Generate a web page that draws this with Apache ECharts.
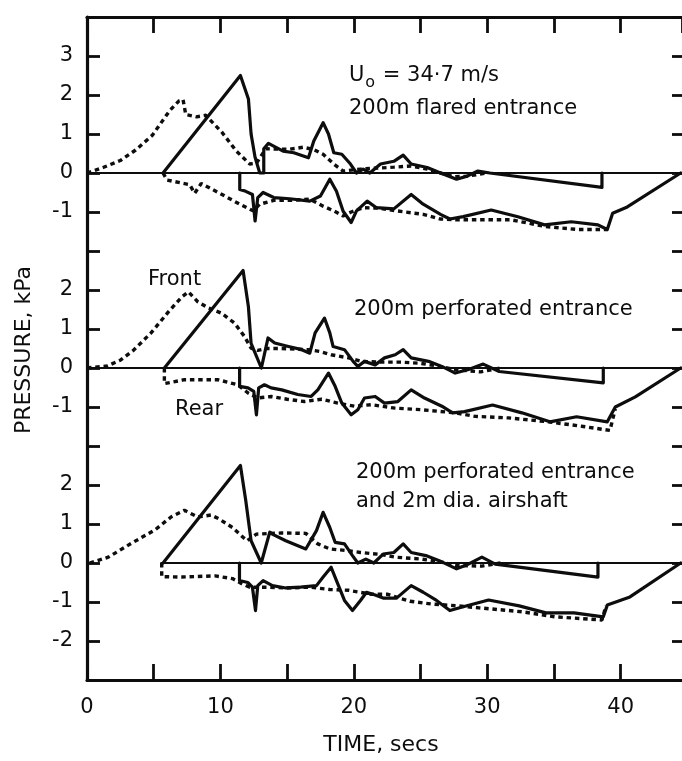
<!DOCTYPE html>
<html><head><meta charset="utf-8">
<script src="https://cdn.jsdelivr.net/npm/echarts@6/dist/echarts.min.js"></script>
<style>html,body{margin:0;padding:0;background:#fff}#c{width:682px;height:761px}</style>
</head><body><div id="c"></div>
<script>
// ---- Panel 1: 200m flared entrance (values in kPa, time in s)
const flaredFrontSolid = [[5.7,0],[11.5,2.5],[12.1,1.9],[12.3,1.0],[12.6,0.4],[12.95,0],[13.25,0],[13.25,0.62],[13.6,0.76],[14.7,0.56],[15.5,0.52],[16.6,0.39],[17.0,0.82],[17.7,1.29],[18.1,1.0],[18.5,0.52],[19.1,0.48],[19.75,0.23],[20.2,0],[20.7,0.1],[21.2,0],[22.0,0.23],[23.0,0.3],[23.7,0.46],[24.3,0.23],[25.5,0.14],[26.5,0],[27.7,-0.16],[28.5,-0.08],[29.3,0.05],[30.2,0],[38.6,-0.37],[38.6,0]];
const flaredFrontDotted = [[0,0],[1.2,0.14],[2.5,0.32],[3.65,0.59],[4.9,0.97],[6.2,1.6],[6.9,1.85],[7.2,1.88],[7.4,1.5],[8.2,1.44],[8.9,1.48],[10.1,1.05],[11.2,0.56],[12.2,0.23],[12.7,0.25],[13.4,0.62],[15.2,0.61],[16.2,0.66],[17.0,0.6],[17.7,0.48],[18.5,0.23],[19.2,0.05],[20.5,0.1],[21.5,0.12],[23.0,0.15],[24.3,0.18],[25.5,0.1],[26.5,0],[27.5,-0.1],[28.5,-0.08],[30.0,0]];
const flaredRearSolid = [[11.45,0],[11.45,-0.42],[11.9,-0.47],[12.4,-0.55],[12.6,-1.23],[12.8,-0.63],[13.2,-0.5],[14.0,-0.63],[15.2,-0.66],[16.7,-0.72],[17.5,-0.59],[18.2,-0.16],[18.7,-0.47],[19.2,-0.98],[19.8,-1.27],[20.2,-0.97],[21.0,-0.72],[21.7,-0.89],[23.0,-0.92],[24.3,-0.55],[25.2,-0.8],[26.5,-1.06],[27.2,-1.18],[28.2,-1.12],[30.3,-0.95],[32.3,-1.12],[34.3,-1.33],[36.3,-1.25],[38.3,-1.33],[39.0,-1.45],[39.4,-1.03],[40.5,-0.87],[44.5,0]];
const flaredRearDotted = [[5.7,0],[6.0,-0.18],[7.7,-0.3],[8.07,-0.52],[8.56,-0.27],[9.95,-0.52],[11.45,-0.8],[12.45,-0.97],[12.95,-0.8],[14.0,-0.7],[15.4,-0.7],[16.7,-0.67],[17.7,-0.85],[18.5,-0.97],[19.2,-1.1],[19.8,-1.0],[20.7,-0.89],[21.8,-0.9],[23.2,-0.97],[25.2,-1.06],[26.5,-1.18],[27.8,-1.2],[29.3,-1.2],[31.8,-1.2],[34.3,-1.37],[36.8,-1.45],[39.0,-1.45]];

// ---- Panel 2: 200m perforated entrance
const perfFrontSolid = [[5.8,0],[11.7,2.5],[12.1,1.57],[12.3,0.63],[13.07,0],[13.1,0],[13.57,0.77],[14.07,0.64],[15.1,0.55],[16.1,0.47],[16.7,0.38],[17.1,0.9],[17.8,1.28],[18.2,0.9],[18.45,0.55],[19.3,0.47],[19.95,0.17],[20.3,0.04],[20.8,0.17],[21.6,0.08],[22.3,0.26],[23.1,0.34],[23.7,0.47],[24.3,0.26],[25.6,0.17],[26.6,0.04],[27.6,-0.13],[28.6,-0.04],[29.7,0.1],[30.9,-0.09],[38.7,-0.38],[38.7,0]];
const perfFrontDotted = [[0,0],[1.5,0.05],[2.5,0.2],[3.5,0.46],[4.8,0.9],[6.1,1.44],[7.1,1.82],[7.6,1.95],[8.3,1.7],[9.1,1.54],[10.06,1.41],[11.06,1.15],[11.8,0.81],[12.3,0.51],[12.8,0.45],[13.5,0.5],[14.5,0.5],[16.6,0.47],[17.5,0.42],[18.3,0.34],[19.6,0.26],[20.6,0.17],[22.0,0.15],[23.5,0.15],[25.0,0.12],[26.3,0.05],[27.6,-0.04],[29.5,-0.1],[31.0,0]];
const perfRearSolid = [[11.44,0],[11.44,-0.47],[12.07,-0.51],[12.5,-0.6],[12.7,-1.2],[12.87,-0.51],[13.3,-0.43],[13.8,-0.51],[14.6,-0.56],[15.8,-0.68],[16.8,-0.73],[17.3,-0.56],[18.1,-0.13],[18.6,-0.47],[19.1,-0.9],[19.8,-1.2],[20.3,-1.07],[20.8,-0.77],[21.6,-0.73],[22.3,-0.9],[23.3,-0.86],[24.3,-0.56],[25.3,-0.77],[26.6,-0.98],[27.4,-1.15],[28.3,-1.12],[30.4,-0.95],[32.6,-1.15],[34.7,-1.38],[36.7,-1.25],[39.0,-1.38],[39.6,-1.0],[41.1,-0.74],[44.5,0]];
const perfRearDotted = [[5.8,0],[5.8,-0.4],[7.3,-0.3],[9.8,-0.3],[11.3,-0.43],[12.07,-0.64],[12.8,-0.77],[13.8,-0.73],[15.0,-0.8],[16.3,-0.86],[17.6,-0.8],[18.8,-0.9],[20.05,-0.98],[21.3,-0.94],[23.1,-1.03],[25.1,-1.07],[27.6,-1.15],[29.1,-1.24],[31.6,-1.28],[34.6,-1.38],[37.2,-1.5],[39.2,-1.6],[39.6,-1.05]];

// ---- Panel 3: 200m perforated entrance and 2m dia. airshaft
const airFrontSolid = [[5.7,0],[11.5,2.5],[11.9,1.6],[12.3,0.57],[13.06,0],[13.7,0.79],[14.0,0.72],[14.9,0.57],[16.4,0.36],[17.2,0.83],[17.7,1.3],[18.2,0.91],[18.6,0.53],[19.3,0.49],[19.9,0.19],[20.3,0],[20.9,0.1],[21.5,0],[22.2,0.23],[23.0,0.27],[23.7,0.49],[24.3,0.27],[25.4,0.19],[26.4,0.06],[27.7,-0.15],[28.4,-0.06],[29.6,0.15],[30.6,-0.03],[38.3,-0.36],[38.3,0]];
const airFrontDotted = [[0.2,0],[1.6,0.15],[3.3,0.5],[5.1,0.85],[6.3,1.18],[7.3,1.35],[8.3,1.18],[9.3,1.23],[9.9,1.13],[10.9,0.91],[11.7,0.66],[12.0,0.57],[12.7,0.74],[14.6,0.77],[16.4,0.76],[17.3,0.49],[18.2,0.36],[19.45,0.32],[20.5,0.27],[22.0,0.22],[23.1,0.15],[25.1,0.1],[26.5,0.03],[27.6,-0.06],[29.6,-0.08],[31.0,0]];
const airRearSolid = [[11.43,0],[11.43,-0.45],[12.05,-0.5],[12.4,-0.62],[12.63,-1.22],[12.8,-0.58],[13.2,-0.45],[13.9,-0.58],[14.9,-0.64],[16.0,-0.62],[17.2,-0.58],[17.7,-0.36],[18.3,-0.11],[18.7,-0.45],[19.3,-0.96],[19.9,-1.22],[20.5,-0.96],[20.95,-0.75],[21.6,-0.82],[22.2,-0.9],[23.2,-0.9],[24.3,-0.58],[25.2,-0.75],[26.2,-0.96],[27.2,-1.22],[28.2,-1.12],[30.1,-0.95],[32.4,-1.1],[34.4,-1.28],[36.5,-1.28],[38.7,-1.38],[39.0,-1.08],[40.7,-0.87],[44.5,0]];
const airRearDotted = [[5.6,0],[5.6,-0.35],[7.1,-0.36],[9.6,-0.33],[10.9,-0.4],[11.7,-0.55],[12.2,-0.62],[13.5,-0.62],[15.0,-0.64],[16.7,-0.62],[18.2,-0.68],[19.6,-0.7],[21.3,-0.8],[22.5,-0.8],[24.2,-0.98],[25.8,-1.05],[27.8,-1.1],[29.4,-1.15],[32.6,-1.25],[35.1,-1.38],[38.6,-1.46],[38.9,-1.1]];

// ---- Panel layout values (each panel's zero sits at this value of the shared axis)
const panelOffsets = [10, 5, 0];
const zeroLineStart = [0, 0, 5.5];
const zeroLineEnd = 44.5;

// ---- Tick labels
const yTickValues = [13,12,11,10,9,7,6,5,4,2,1,0,-1,-2];
const yTickText   = ['3','2','1','0','-1','2','1','0','-1','2','1','0','-1','-2'];
const xTickValues = [0,10,20,30,40];
const xTickText   = ['0','10','20','30','40'];

const panels = [
  [flaredFrontSolid, flaredFrontDotted, flaredRearSolid, flaredRearDotted],
  [perfFrontSolid, perfFrontDotted, perfRearSolid, perfRearDotted],
  [airFrontSolid, airFrontDotted, airRearSolid, airRearDotted]
];

const INK = '#0d0d0d';
const shift = (d, off) => d.map(p => [p[0], p[1] + off]);
const solidStyle = { color: INK, width: 3.2, cap: 'round', join: 'round' };
const dotStyle = { color: INK, width: 3.4, type: [4.5, 3.8], cap: 'butt' };

const series = [];
panels.forEach((p, i) => {
  const off = panelOffsets[i];
  series.push({ type: 'line', data: [[zeroLineStart[i], off], [zeroLineEnd + 0.2, off]],
    showSymbol: false, lineStyle: { color: INK, width: 2.2 }, silent: true, z: 2 });
  series.push({ type: 'line', data: shift(p[1], off), showSymbol: false, lineStyle: dotStyle, z: 3 });
  series.push({ type: 'line', data: shift(p[3], off), showSymbol: false, lineStyle: dotStyle, z: 3 });
  series.push({ type: 'line', data: shift(p[0], off), showSymbol: false, lineStyle: solidStyle, z: 4 });
  series.push({ type: 'line', data: shift(p[2], off), showSymbol: false, lineStyle: solidStyle, z: 4 });
});

const tickFont = { fontFamily: 'DejaVu Sans', fontSize: 21, color: INK };
const txt = (x, y, text, size, extra) => ({
  type: 'text', x: x, y: y, silent: true,
  style: Object.assign({ text: text, fill: INK, font: size + 'px "DejaVu Sans"',
    align: 'left', verticalAlign: 'middle' }, extra || {})
});

const chart = echarts.init(document.getElementById('c'), null, { renderer: 'canvas' });
chart.setOption({
  animation: false,
  backgroundColor: '#fff',
  grid: { left: 87, right: 0, top: 17, bottom: 81, containLabel: false },
  xAxis: [
    { type: 'value', min: 0, max: 44.6, interval: 5, position: 'bottom',
      axisLine: { show: true, onZero: false, lineStyle: { color: INK, width: 3.2 } },
      axisTick: { show: true, inside: true, length: 16, lineStyle: { color: INK, width: 2.8 } },
      axisLabel: Object.assign({ margin: 17, showMaxLabel: false,
        formatter: v => { const k = xTickValues.indexOf(Math.round(v)); return k >= 0 ? xTickText[k] : ''; } }, tickFont),
      splitLine: { show: false } },
    { type: 'value', min: 0, max: 44.6, interval: 5, position: 'top',
      axisLine: { show: true, onZero: false, lineStyle: { color: INK, width: 3.2 } },
      axisTick: { show: true, inside: true, length: 16, lineStyle: { color: INK, width: 2.8 } },
      axisLabel: { show: false }, splitLine: { show: false } }
  ],
  yAxis: [
    { type: 'value', min: -3, max: 14, interval: 1, position: 'left',
      axisLine: { show: true, onZero: false, lineStyle: { color: INK, width: 3.2 } },
      axisTick: { show: true, inside: true, length: 13, lineStyle: { color: INK, width: 2.8 } },
      axisLabel: Object.assign({ margin: 14, showMinLabel: false, showMaxLabel: false,
        formatter: v => { const k = yTickValues.indexOf(Math.round(v)); return k >= 0 ? yTickText[k] : ''; } }, tickFont),
      splitLine: { show: false } },
    { type: 'value', min: -3, max: 14, interval: 1, position: 'right',
      axisLine: { show: false, onZero: false },
      axisTick: { show: true, inside: true, length: 10, lineStyle: { color: INK, width: 2.8 } },
      axisLabel: { show: false }, splitLine: { show: false } }
  ],
  series: series,
  graphic: [
    { type: 'text', x: 349, y: 76, silent: true,
      style: { text: '{u|U}{s|o}{u| = 34·7 m/s}', fill: INK, align: 'left', verticalAlign: 'middle',
        rich: { u: { fontFamily: 'DejaVu Sans', fontSize: 21, color: INK, verticalAlign: 'middle' },
                s: { fontFamily: 'DejaVu Sans', fontSize: 16, color: INK, padding: [14, 1, 0, 1], verticalAlign: 'middle' } } } },
    txt(349, 109, '200m flared entrance', 21),
    txt(354, 310, '200m perforated entrance', 21),
    txt(148, 280, 'Front', 21),
    txt(175, 410, 'Rear', 21),
    txt(356, 473, '200m perforated entrance', 21),
    txt(356, 502, 'and 2m dia. airshaft', 21),
    txt(381, 745, 'TIME, secs', 22, { align: 'center' }),
    { type: 'text', x: 24, y: 350, rotation: Math.PI / 2, silent: true,
      style: { text: 'PRESSURE, kPa', fill: INK, font: '22px "DejaVu Sans"', align: 'center', verticalAlign: 'middle' } }
  ]
});
</script>
</body></html>
